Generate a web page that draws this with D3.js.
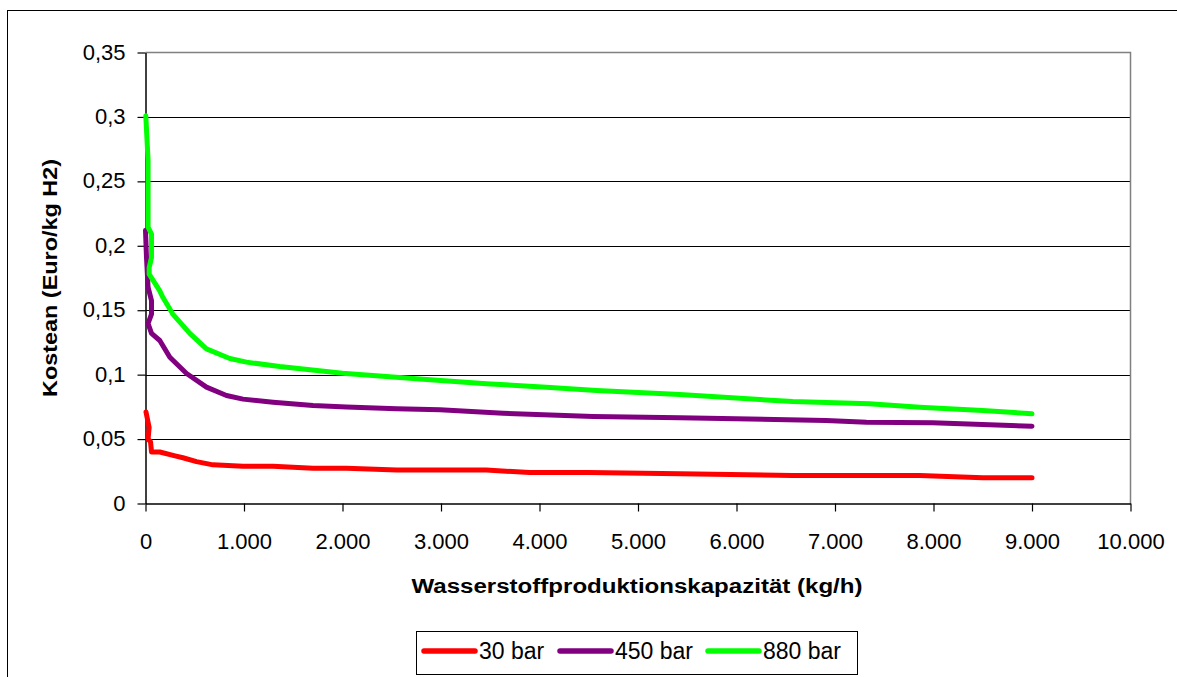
<!DOCTYPE html>
<html>
<head>
<meta charset="utf-8">
<script src="https://cdn.jsdelivr.net/npm/d3@7/dist/d3.min.js"></script>
<style>
html,body{margin:0;padding:0;background:#fff;}
svg{display:block;font-family:"Liberation Sans",Arial,sans-serif;}
</style>
</head>
<body>
<svg id="chart" width="1177" height="677"></svg>
<script>
// ---- data ----
const seriesNames = ["30 bar", "450 bar", "880 bar"];
const seriesColors = ["#FF0000", "#800080", "#00FF00"];

const capacity30 = [5, 37, 26, 51, 61, 145, 300, 380, 518, 685, 990, 1295, 1700, 2040, 2550, 3460, 3900, 4500, 5425, 6570, 7860, 8500, 9000];
const cost30     = [0.071, 0.059, 0.050, 0.048, 0.040, 0.040, 0.037, 0.0355, 0.0325, 0.030, 0.029, 0.029, 0.0274, 0.0274, 0.026, 0.026, 0.024, 0.024, 0.023, 0.0217, 0.0217, 0.020, 0.020];

const capacity450 = [0, 10, 26, 61, 61, 26, 61, 145, 247, 417, 619, 822, 990, 1295, 1700, 2040, 2550, 2990, 3630, 4545, 5425, 6910, 7320, 7990, 9000];
const cost450     = [0.212, 0.191, 0.168, 0.1575, 0.147, 0.1397, 0.132, 0.1265, 0.1135, 0.1009, 0.0903, 0.0838, 0.081, 0.0786, 0.076, 0.0748, 0.0735, 0.0727, 0.070, 0.0675, 0.0665, 0.0644, 0.063, 0.0626, 0.060];

const capacity880 = [3, 26, 26, 61, 61, 37, 37, 95, 145, 176, 277, 450, 619, 856, 1025, 1363, 2000, 2785, 3460, 4070, 4580, 5425, 6570, 7350, 7860, 8500, 9000];
const cost880     = [0.301, 0.266, 0.2144, 0.209, 0.191, 0.183, 0.178, 0.171, 0.165, 0.160, 0.147, 0.132, 0.120, 0.1125, 0.1097, 0.1063, 0.101, 0.0967, 0.0929, 0.0903, 0.0877, 0.0846, 0.0791, 0.0774, 0.0747, 0.0722, 0.0696];

const xTicks = [0, 1000, 2000, 3000, 4000, 5000, 6000, 7000, 8000, 9000, 10000];
const xTickLabels = ["0", "1.000", "2.000", "3.000", "4.000", "5.000", "6.000", "7.000", "8.000", "9.000", "10.000"];
const yTicks = [0, 0.05, 0.1, 0.15, 0.2, 0.25, 0.3, 0.35];
const yTickLabels = ["0", "0,05", "0,1", "0,15", "0,2", "0,25", "0,3", "0,35"];

const xTitle = "Wasserstoffproduktionskapazität (kg/h)";
const yTitle = "Kostean (Euro/kg H2)";

// ---- layout ----
const svg = d3.select("#chart");
const plot = {left: 145.5, right: 1130.5, top: 52.5, bottom: 503.5};

const x = d3.scaleLinear().domain([0, 10000]).range([plot.left, plot.right]);
const y = d3.scaleLinear().domain([0, 0.35]).range([plot.bottom, plot.top]);

// outer chart border
svg.append("rect").attr("x", 7.5).attr("y", 10.5).attr("width", 1250).attr("height", 750)
  .attr("fill", "#fff").attr("stroke", "#000").attr("stroke-width", 1);

// gridlines
svg.append("g").selectAll("line").data(yTicks.filter(d => d > 0 && d < 0.35)).join("line")
  .attr("x1", plot.left).attr("x2", plot.right)
  .attr("y1", d => Math.round(y(d)) + 0.5).attr("y2", d => Math.round(y(d)) + 0.5)
  .attr("stroke", "#000").attr("stroke-width", 1);

// plot border top/right (grey)
svg.append("path")
  .attr("d", `M${plot.left},${plot.top}H${plot.right}V${plot.bottom}`)
  .attr("fill", "none").attr("stroke", "#808080").attr("stroke-width", 1.5);

// axes
const fmtX = d => xTickLabels[xTicks.indexOf(d)];
const fmtY = d => yTickLabels[yTicks.findIndex(t => Math.abs(t - d) < 1e-9)];

const xAxis = svg.append("g").attr("transform", `translate(0,${plot.bottom})`)
  .call(d3.axisBottom(x).tickValues(xTicks).tickFormat(fmtX).tickSize(8).tickPadding(20).tickSizeOuter(0));
const yAxis = svg.append("g").attr("transform", `translate(${plot.left},0)`)
  .call(d3.axisLeft(y).tickValues(yTicks).tickFormat(fmtY).tickSize(8).tickPadding(12).tickSizeOuter(0));

[xAxis, yAxis].forEach(a => {
  a.select(".domain").attr("stroke", "#000").attr("stroke-width", 1.5);
  a.selectAll(".tick line").attr("stroke", "#000").attr("stroke-width", 1.2);
  a.selectAll(".tick text").attr("fill", "#000").style("font-size", "22px")
    .style("font-family", "'Liberation Sans', Arial, sans-serif");
});
xAxis.selectAll(".tick text").attr("dy", "0.32em").attr("y", 38);
yAxis.selectAll(".tick text").attr("dy", "0.3em");

// lines
const seriesData = [
  d3.zip(capacity30, cost30),
  d3.zip(capacity450, cost450),
  d3.zip(capacity880, cost880)
];
const line = d3.line().x(d => x(d[0])).y(d => y(d[1]));
svg.append("g").selectAll("path").data(seriesData).join("path")
  .attr("d", line)
  .attr("fill", "none")
  .attr("stroke", (d, i) => seriesColors[i])
  .attr("stroke-width", 5)
  .attr("stroke-linecap", "round")
  .attr("stroke-linejoin", "round");

// axis titles
svg.append("text").attr("x", 637).attr("y", 593)
  .attr("text-anchor", "middle")
  .attr("textLength", 451).attr("lengthAdjust", "spacingAndGlyphs")
  .style("font-size", "20px").style("font-weight", "bold").text(xTitle);

svg.append("text").attr("transform", "translate(57,278) rotate(-90)")
  .attr("text-anchor", "middle")
  .attr("textLength", 238).attr("lengthAdjust", "spacingAndGlyphs")
  .style("font-size", "20px").style("font-weight", "bold").text(yTitle);

// legend
const legend = svg.append("g");
legend.append("rect").attr("x", 416.5).attr("y", 631.5).attr("width", 441).attr("height", 43)
  .attr("fill", "#fff").attr("stroke", "#000").attr("stroke-width", 1);
const legendX = [424, 560, 708];
const items = legend.selectAll("g.item").data(seriesNames).join("g").attr("class", "item")
  .attr("transform", (d, i) => `translate(${legendX[i]},651)`);
items.append("line").attr("x1", 0).attr("x2", 51).attr("y1", 0).attr("y2", 0)
  .attr("stroke", (d, i) => seriesColors[i]).attr("stroke-width", 5.5).attr("stroke-linecap", "round");
items.append("text").attr("x", 55).attr("y", 0).attr("dy", "0.36em")
  .style("font-size", "23px").attr("fill", "#000").text(d => d);
</script>
</body>
</html>
